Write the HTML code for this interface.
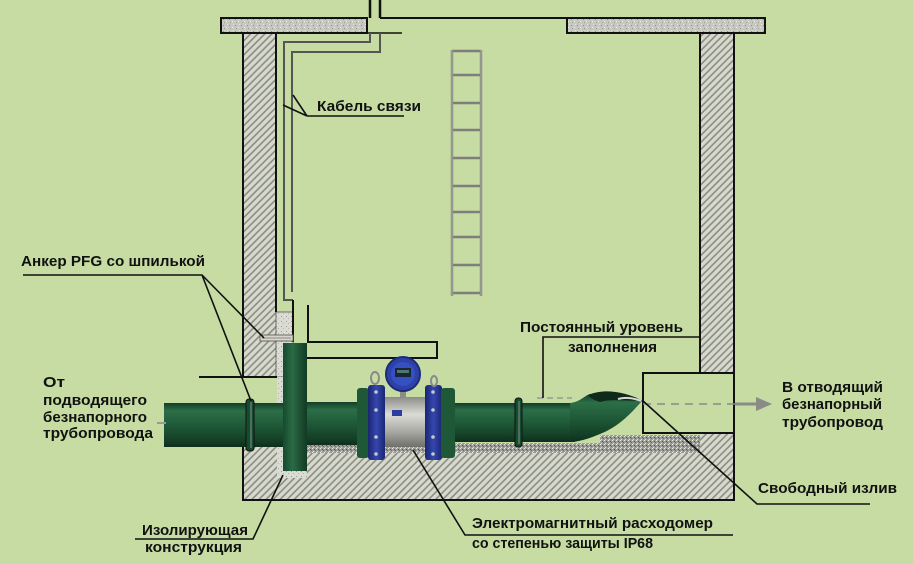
<!DOCTYPE html>
<html><head><meta charset="utf-8"><style>
html,body{margin:0;padding:0;background:#c6dca3;}
svg{display:block;}
text{font-family:"Liberation Sans","DejaVu Sans",sans-serif;font-weight:bold;font-size:15px;fill:#111;}
</style></head><body>
<svg width="913" height="564" viewBox="0 0 913 564" xmlns="http://www.w3.org/2000/svg">
<defs>
 <pattern id="hatch" width="5" height="5" patternUnits="userSpaceOnUse" patternTransform="rotate(45)">
  <rect width="5" height="5" fill="#d6d9cb"/>
  <line x1="1.2" y1="0" x2="1.2" y2="5" stroke="#8a8d84" stroke-width="1.6"/>
 </pattern>
 <pattern id="speck" width="6" height="6" patternUnits="userSpaceOnUse">
  <rect width="6" height="6" fill="#c7c8c0"/>
  <rect x="1" y="1" width="1" height="1" fill="#8e8f88"/>
  <rect x="4" y="3" width="1" height="1" fill="#f2f2ec"/>
  <rect x="2" y="4" width="1" height="1" fill="#9a9b94"/>
  <rect x="5" y="0" width="1" height="1" fill="#e6e6e0"/>
 </pattern>
 <pattern id="gravel" width="4" height="4" patternUnits="userSpaceOnUse">
  <rect width="4" height="4" fill="#9c9d96"/>
  <rect x="0" y="0" width="1" height="1" fill="#ecece6"/>
  <rect x="2" y="1" width="1" height="1" fill="#55564f"/>
  <rect x="1" y="3" width="1" height="1" fill="#e0e0da"/>
  <rect x="3" y="2" width="1" height="1" fill="#6a6b65"/>
 </pattern>
 <pattern id="insul" width="5" height="5" patternUnits="userSpaceOnUse">
  <rect width="5" height="5" fill="#dadbd3"/>
  <rect x="1" y="1" width="1" height="1" fill="#9c9d96"/>
  <rect x="3" y="3" width="1" height="1" fill="#b0b1aa"/>
 </pattern>
 <linearGradient id="pg" x1="0" y1="0" x2="0" y2="1">
  <stop offset="0" stop-color="#143d27"/>
  <stop offset="0.18" stop-color="#2c6e47"/>
  <stop offset="0.5" stop-color="#1f5a38"/>
  <stop offset="0.85" stop-color="#143f27"/>
  <stop offset="1" stop-color="#0e2e1c"/>
 </linearGradient>
 <linearGradient id="pgh" x1="0" y1="0" x2="1" y2="0">
  <stop offset="0" stop-color="#164a2e"/>
  <stop offset="0.4" stop-color="#2a6a45"/>
  <stop offset="1" stop-color="#123a24"/>
 </linearGradient>
 <linearGradient id="steel" x1="0" y1="0" x2="0" y2="1">
  <stop offset="0" stop-color="#8c8c88"/>
  <stop offset="0.35" stop-color="#dcdcd6"/>
  <stop offset="0.7" stop-color="#a8a8a2"/>
  <stop offset="1" stop-color="#6e6e6a"/>
 </linearGradient>
 <linearGradient id="blue" x1="0" y1="0" x2="1" y2="0">
  <stop offset="0" stop-color="#1a2670"/>
  <stop offset="0.5" stop-color="#3447b0"/>
  <stop offset="1" stop-color="#1a2670"/>
 </linearGradient>
</defs>

<rect width="913" height="564" fill="#c6dca3"/>

<!-- floor -->
<rect x="243" y="447" width="491" height="53" fill="url(#hatch)"/>
<!-- left wall upper -->
<rect x="243" y="33" width="33" height="344" fill="url(#hatch)"/>
<rect x="243" y="447" width="34" height="53" fill="url(#hatch)"/>
<!-- right wall -->
<rect x="700" y="33" width="34" height="340" fill="url(#hatch)"/>
<rect x="700" y="433" width="34" height="67" fill="url(#hatch)"/>
<!-- gravel -->
<rect x="305" y="443" width="395" height="10" fill="url(#gravel)"/>
<rect x="600" y="435" width="100" height="18" fill="url(#gravel)"/>
<!-- insulation -->
<rect x="276" y="312" width="17" height="65" fill="url(#insul)" stroke="#555" stroke-width="0.8"/>
<rect x="277" y="377" width="7" height="30" fill="url(#insul)"/>
<rect x="277" y="445" width="30" height="33" fill="url(#insul)"/>

<!-- top slab -->
<rect x="221" y="18" width="146" height="15" fill="url(#speck)" stroke="#111" stroke-width="2"/>
<rect x="567" y="18" width="198" height="15" fill="url(#speck)" stroke="#111" stroke-width="2"/>
<line x1="380" y1="18" x2="567" y2="18" stroke="#111" stroke-width="2"/>
<line x1="367" y1="33" x2="402" y2="33" stroke="#111" stroke-width="1.5"/>

<!-- outlines -->
<g fill="none" stroke="#111" stroke-width="2">
 <path d="M243,33 V377 M276,33 V312"/>
 <path d="M199,377 H277"/>
 <path d="M243,447 V500 H734 V433 M734,373 V33 M700,33 V373"/>
 <rect x="643" y="373" width="91" height="60"/>
</g>

<!-- ladder -->
<g fill="none" stroke="#7e7f7a" stroke-width="2.4">
 <line x1="452" y1="50" x2="452" y2="296"/>
 <line x1="481" y1="50" x2="481" y2="296"/>
 <path d="M452,51 H481 M452,75 H481 M452,103 H481 M452,130 H481 M452,158 H481 M452,186 H481 M452,212 H481 M452,237 H481 M452,265 H481 M452,293 H481"/>
</g>
<g fill="none" stroke="#b9bab4" stroke-width="0.8">
 <line x1="452" y1="50" x2="452" y2="296"/>
 <line x1="481" y1="50" x2="481" y2="296"/>
</g>

<!-- cable -->
<line x1="370" y1="0" x2="370" y2="18" stroke="#111" stroke-width="2.5"/>
<line x1="380" y1="0" x2="380" y2="18" stroke="#111" stroke-width="2.5"/>
<g fill="none" stroke="#555" stroke-width="2">
 <path d="M370,33 V42 H284 V300 H293"/>
 <path d="M380,33 V52 H292 V292"/>
</g>
<g fill="none" stroke="#111" stroke-width="2">
 <path d="M293,300 V342 M308,305 V342 H437 V358 H305"/>
</g>

<!-- anchor bolt -->
<rect x="260" y="335" width="33" height="6" fill="#d8d6cc" stroke="#6a6a66" stroke-width="1"/>
<line x1="262" y1="338" x2="291" y2="338" stroke="#8a8a84" stroke-width="1"/>

<!-- inlet pipe -->
<rect x="164" y="403" width="120" height="44" fill="url(#pg)"/>
<line x1="157" y1="423" x2="166" y2="423" stroke="#999" stroke-width="2"/>
<rect x="246" y="399" width="8" height="52" rx="3" fill="#174a2e" stroke="#111" stroke-width="1"/>
<line x1="251" y1="402" x2="251" y2="448" stroke="#9aa" stroke-width="0.8"/>
<rect x="283" y="343" width="24" height="128" fill="url(#pgh)"/>
<rect x="307" y="402" width="52" height="43" fill="url(#pg)"/>

<!-- meter -->
<rect x="357" y="388" width="12" height="70" rx="3" fill="#1e5836"/>
<rect x="368" y="385" width="17" height="75" rx="3" fill="url(#blue)"/>
<rect x="385" y="397" width="40" height="50" fill="url(#steel)"/>
<rect x="392" y="410" width="10" height="6" fill="#2b3d9e"/>
<rect x="425" y="385" width="17" height="75" rx="3" fill="url(#blue)"/>
<rect x="441" y="388" width="14" height="70" rx="3" fill="#1e5836"/>
<g fill="#c8c8c8">
 <circle cx="376" cy="392" r="1.8"/><circle cx="376" cy="410" r="1.8"/><circle cx="376" cy="437" r="1.8"/><circle cx="376" cy="454" r="1.8"/>
 <circle cx="433" cy="392" r="1.8"/><circle cx="433" cy="410" r="1.8"/><circle cx="433" cy="437" r="1.8"/><circle cx="433" cy="454" r="1.8"/>
</g>
<ellipse cx="375" cy="378" rx="4" ry="6" fill="none" stroke="#8a8a8a" stroke-width="2"/>
<ellipse cx="434" cy="381" rx="3" ry="5" fill="none" stroke="#8a8a8a" stroke-width="2"/>
<rect x="400" y="388" width="6" height="10" fill="#8c8c88"/>
<circle cx="403" cy="374" r="17" fill="#2d42a8" stroke="#1c2a78" stroke-width="2"/>
<circle cx="403" cy="374" r="12" fill="#3550c0"/>
<rect x="395" y="368" width="16" height="9" fill="#1c2538"/>
<rect x="397" y="370" width="12" height="3" fill="#4a7a6a"/>

<!-- pipe after meter -->
<rect x="455" y="403" width="120" height="39" fill="url(#pg)"/>
<rect x="515" y="398" width="7" height="49" rx="3" fill="#174a2e" stroke="#111" stroke-width="1"/>
<line x1="519" y1="401" x2="519" y2="444" stroke="#9aa" stroke-width="0.8"/>
<!-- elbow -->
<path d="M570,403 C580,402 584,396 590,394 L635,397 L642,401 C632,412 620,426 600,434 C588,439 578,442 570,442 Z" fill="url(#pg)"/>
<path d="M588,395 C605,388 625,392 641,400 C628,402 612,398 600,402 C594,400 590,398 588,395 Z" fill="#0f2a1a"/>
<path d="M618,399 C626,397 634,398 641,401" fill="none" stroke="#d8d8d0" stroke-width="2"/>

<line x1="537" y1="398" x2="572" y2="398" stroke="#9a9a94" stroke-width="1.5" stroke-dasharray="6,4"/>
<line x1="643" y1="404" x2="735" y2="404" stroke="#8a8a86" stroke-width="1.5" stroke-dasharray="8,6"/>
<line x1="735" y1="404" x2="760" y2="404" stroke="#8a8a86" stroke-width="3"/>
<path d="M756,397 L772,404 L756,411 Z" fill="#8a8a86"/>

<!-- leaders -->
<g fill="none" stroke="#111" stroke-width="1.6">
 <path d="M307,116 H404 M307,116 L293,95 M307,116 L283,105"/>
 <path d="M23,275 H202 L264,338 M202,275 L251,401"/>
 <path d="M543,398 V337 H700"/>
 <path d="M642,400 L757,504 H870"/>
 <path d="M413,450 L465,535 H733"/>
 <path d="M283,475 L253,539 H135"/>
</g>

<!-- texts -->
<text x="317" y="111" textLength="104" lengthAdjust="spacingAndGlyphs">Кабель связи</text>
<text x="21" y="266" textLength="184" lengthAdjust="spacingAndGlyphs">Анкер PFG со шпилькой</text>
<text x="43" y="387" textLength="22" lengthAdjust="spacingAndGlyphs">От</text>
<text x="43" y="405" textLength="104" lengthAdjust="spacingAndGlyphs">подводящего</text>
<text x="43" y="422" textLength="104" lengthAdjust="spacingAndGlyphs">безнапорного</text>
<text x="43" y="438" textLength="110" lengthAdjust="spacingAndGlyphs">трубопровода</text>
<text x="520" y="332" textLength="163" lengthAdjust="spacingAndGlyphs">Постоянный уровень</text>
<text x="568" y="352" textLength="89" lengthAdjust="spacingAndGlyphs">заполнения</text>
<text x="782" y="392" textLength="101" lengthAdjust="spacingAndGlyphs">В отводящий</text>
<text x="782" y="409" textLength="100" lengthAdjust="spacingAndGlyphs">безнапорный</text>
<text x="782" y="427" textLength="101" lengthAdjust="spacingAndGlyphs">трубопровод</text>
<text x="758" y="493" textLength="139" lengthAdjust="spacingAndGlyphs">Свободный излив</text>
<text x="472" y="528" textLength="241" lengthAdjust="spacingAndGlyphs">Электромагнитный расходомер</text>
<text x="472" y="548" textLength="181" lengthAdjust="spacingAndGlyphs">со степенью защиты IP68</text>
<text x="142" y="535" textLength="106" lengthAdjust="spacingAndGlyphs">Изолирующая</text>
<text x="145" y="552" textLength="97" lengthAdjust="spacingAndGlyphs">конструкция</text>
</svg>
</body></html>
